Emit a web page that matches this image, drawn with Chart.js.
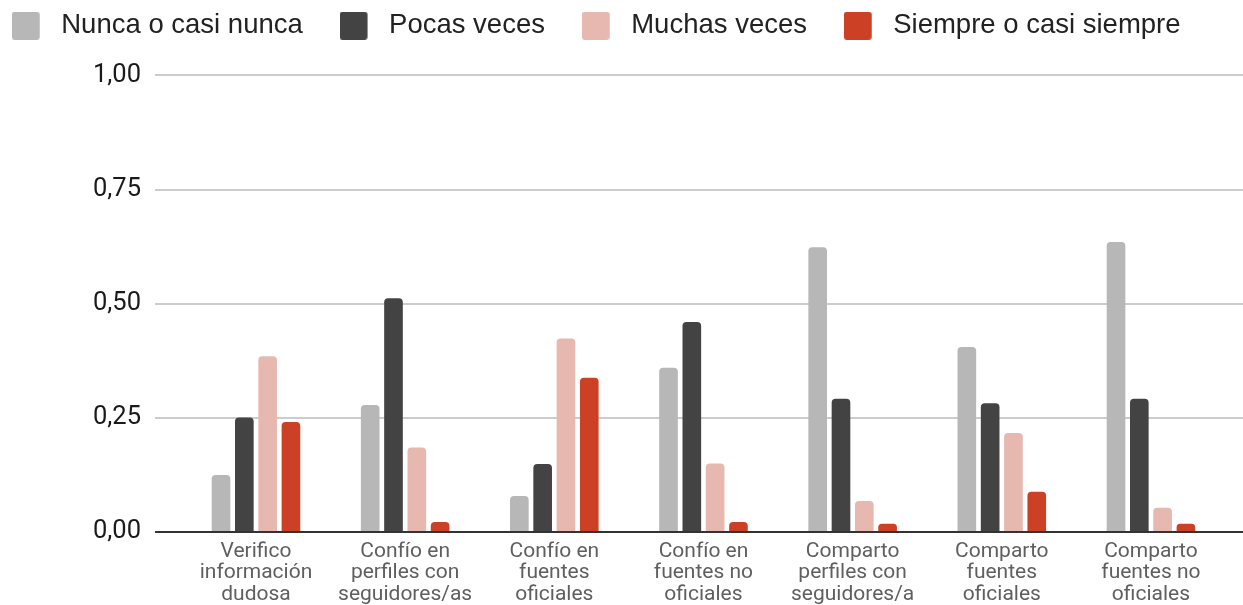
<!DOCTYPE html>
<html>
<head>
<meta charset="utf-8">
<script src="https://cdn.jsdelivr.net/npm/chart.js@4.4.0/dist/chart.umd.min.js"></script>
<style>
  html, body { margin: 0; padding: 0; background: #ffffff; }
  #wrap { width: 1243px; height: 605px; }
</style>
</head>
<body>
<div id="wrap"><canvas id="c" width="1243" height="605"></canvas></div>
<script>
// ---- data ----
const categories = [
  ["Verifico", "información", "dudosa"],
  ["Confío en", "perfiles con", "seguidores/as"],
  ["Confío en", "fuentes", "oficiales"],
  ["Confío en", "fuentes no", "oficiales"],
  ["Comparto", "perfiles con", "seguidores/a"],
  ["Comparto", "fuentes", "oficiales"],
  ["Comparto", "fuentes no", "oficiales"]
];
const seriesNames = ["Nunca o casi nunca", "Pocas veces", "Muchas veces", "Siempre o casi siempre"];
const nuncaValues    = [0.125, 0.278, 0.079, 0.360, 0.624, 0.405, 0.635];
const pocasValues    = [0.251, 0.512, 0.149, 0.460, 0.292, 0.282, 0.292];
const muchasValues   = [0.385, 0.185, 0.424, 0.150, 0.068, 0.217, 0.053];
const siempreValues  = [0.241, 0.022, 0.338, 0.022, 0.018, 0.088, 0.018];
const yTickValues = [0, 0.25, 0.5, 0.75, 1];

// ---- style ----
const colors = ["#b7b7b7", "#434343", "#e6b8af", "#cc4125"];

function makeIcon(color) {
  const cv = document.createElement('canvas');
  cv.width = 36; cv.height = 28;
  const g = cv.getContext('2d');
  g.fillStyle = color;
  g.beginPath();
  if (g.roundRect) g.roundRect(0, 0, 28, 28, 3); else g.rect(0, 0, 28, 28);
  g.fill();
  return cv;
}
const icons = colors.map(makeIcon);

const allValues = [nuncaValues, pocasValues, muchasValues, siempreValues];
const datasets = allValues.map((vals, s) => ({
  label: seriesNames[s],
  data: vals.map((v, i) => ({ x: i, y: v })),
  backgroundColor: colors[s],
  borderWidth: 0,
  borderRadius: 4,
  borderSkipped: 'bottom',
  categoryPercentage: 0.625,
  barPercentage: 0.8
}));

new Chart(document.getElementById('c'), {
  type: 'bar',
  data: { datasets },
  options: {
    responsive: false,
    animation: false,
    events: [],
    layout: { padding: { left: -25, top: -25, right: 0, bottom: 0 } },
    plugins: {
      tooltip: { enabled: false },
      legend: {
        position: 'top',
        align: 'start',
        labels: {
          usePointStyle: true,
          pointStyleWidth: 35.5,
          boxHeight: 28,
          padding: 37,
          color: '#222222',
          font: { family: '"Liberation Sans", Arial, sans-serif', size: 27.5 },
          generateLabels: (chart) => {
            const items = Chart.defaults.plugins.legend.labels.generateLabels(chart);
            items.forEach((it) => { it.pointStyle = icons[it.datasetIndex]; });
            return items;
          }
        }
      }
    },
    scales: {
      x: {
        type: 'linear',
        min: -0.677,
        max: 6.617,
        offset: false,
        grid: { display: false, drawTicks: false, offset: false },
        border: { display: false },
        afterBuildTicks: (axis) => { axis.ticks = categories.map((c, i) => ({ value: i })); },
        afterFit: (axis) => { axis.height = 73; },
        ticks: {
          autoSkip: false,
          maxRotation: 0,
          minRotation: 0,
          padding: 8.5,
          color: '#5f5f5f',
          font: { family: 'Roboto, sans-serif', size: 21, lineHeight: 1.03 },
          callback: (v) => categories[v]
        }
      },
      y: {
        min: 0,
        max: 1.0569,
        grid: {
          drawTicks: false,
          lineWidth: 2,
          color: (ctx) => (ctx.tick && ctx.tick.value === 0) ? '#333333' : '#cccccc'
        },
        border: { display: false },
        afterBuildTicks: (axis) => { axis.ticks = yTickValues.map(v => ({ value: v })); },
        afterFit: (axis) => { axis.width = 180; },
        ticks: {
          padding: 14,
          color: '#1a1a1a',
          font: { family: 'Roboto, sans-serif', size: 25.5 },
          callback: (v) => v.toFixed(2).replace('.', ',')
        }
      }
    }
  }
});
</script>
</body>
</html>
